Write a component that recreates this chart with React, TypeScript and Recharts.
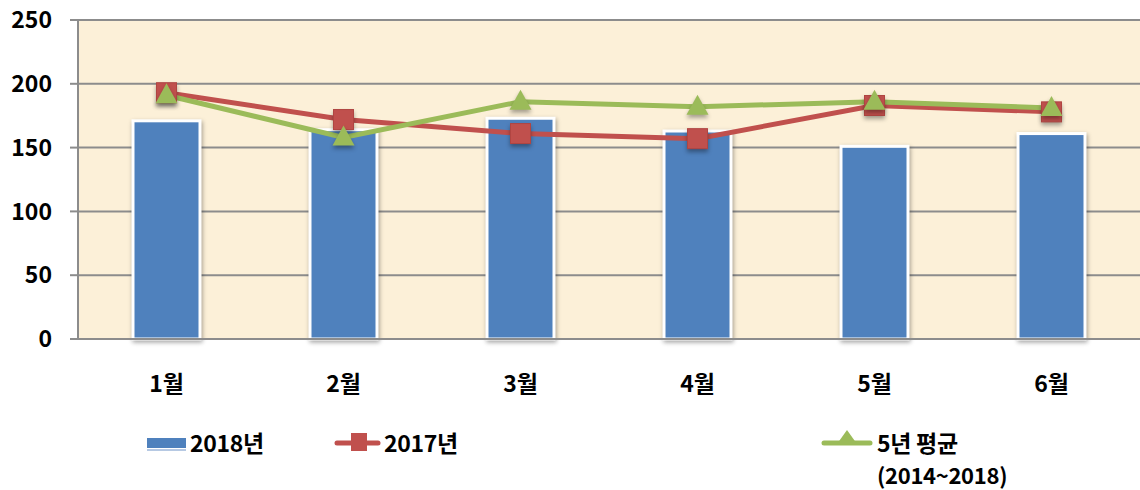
import React from 'react';
import { ComposedChart, Bar, Line, XAxis, YAxis, CartesianGrid } from 'recharts';

const categories = ['1월', '2월', '3월', '4월', '5월', '6월'];
const series2018 = [171, 164, 173, 163, 151, 161];
const series2017 = [193, 172, 161, 157, 183, 178];
const series5yr = [191, 158, 186, 182, 186, 181];
const yTicks = [0, 50, 100, 150, 200, 250];
const boundaryTicks = [0, 1, 2, 3, 4, 5, 6];

const data = categories.map((c, i) => ({
  name: c,
  idx: i + 0.5,
  a: series2018[i],
  b: series2017[i],
  c: series5yr[i],
}));

const FONT = '"Malgun Gothic", "Noto Sans CJK KR", sans-serif';

const SquareDot = (props: any) => {
  const { cx, cy } = props;
  if (cx == null || cy == null) return null;
  return (
    <rect
      x={cx - 10}
      y={cy - 10}
      width={20}
      height={20}
      fill="#c0504d"
      stroke="#b04542"
      strokeWidth={1}
      style={{ filter: 'drop-shadow(0px 3px 2px rgba(0,0,0,0.35))' }}
    />
  );
};

const TriangleDot = (props: any) => {
  const { cx, cy } = props;
  if (cx == null || cy == null) return null;
  return (
    <path
      d={`M${cx},${cy - 12} L${cx + 11},${cy + 8} L${cx - 11},${cy + 8} Z`}
      fill="#9bbb59"
      style={{ filter: 'drop-shadow(0px 3px 2px rgba(0,0,0,0.35))' }}
    />
  );
};

const ShadowBar = (props: any) => {
  const { x, y, width, height } = props;
  if (x == null || height == null || height <= 0) return null;
  return (
    <rect
      x={x}
      y={y}
      width={width}
      height={height}
      fill="#4f81bd"
      stroke="#ffffff"
      strokeWidth={3}
      style={{ filter: 'drop-shadow(1px 2px 2px rgba(0,0,0,0.35))' }}
    />
  );
};

const legendText: React.CSSProperties = {
  position: 'absolute',
  fontFamily: FONT,
  fontWeight: 700,
  fontSize: 23,
  color: '#000',
  lineHeight: '24px',
  whiteSpace: 'nowrap',
  letterSpacing: '-0.3px',
};

export default function App() {
  return (
    <div style={{ position: 'absolute', left: 0, top: 0, width: 1140, height: 490, background: '#fff', overflow: 'hidden' }}>
      <ComposedChart
        width={1140}
        height={490}
        data={data}
        margin={{ top: 20, right: 0, bottom: 91, left: 0 }}
        barCategoryGap={0}
      >
        <CartesianGrid vertical={false} stroke="#8c8c8c" strokeWidth={2} fill="#fcf0d8" fillOpacity={1} />
        <XAxis
          dataKey="name"
          height={60}
          tickLine={false}
          axisLine={{ stroke: '#8c8c8c', strokeWidth: 2 }}
          tickMargin={31}
          tick={{ fontFamily: FONT, fontWeight: 700, fontSize: 23, fill: '#000' }}
          interval={0}
        />
        <XAxis
          xAxisId="bd"
          type="number"
          dataKey="idx"
          domain={[0, 6]}
          ticks={boundaryTicks}
          tick={false}
          tickSize={8}
          tickLine={{ stroke: '#8c8c8c', strokeWidth: 2 }}
          axisLine={false}
          height={0}
          allowDataOverflow
        />
        <YAxis
          width={78}
          domain={[0, 250]}
          ticks={yTicks}
          interval={0}
          tickSize={8}
          tickMargin={18}
          tickLine={{ stroke: '#8c8c8c', strokeWidth: 2 }}
          axisLine={{ stroke: '#8c8c8c', strokeWidth: 2 }}
          tick={{ fontFamily: FONT, fontWeight: 700, fontSize: 23, fill: '#000' }}
        />
        <Bar dataKey="a" barSize={67} fill="#4f81bd" shape={<ShadowBar />} isAnimationActive={false} />
        <Line dataKey="b" stroke="#c0504d" strokeWidth={5} dot={<SquareDot />} activeDot={false} isAnimationActive={false} />
        <Line dataKey="c" stroke="#9bbb59" strokeWidth={5} dot={<TriangleDot />} activeDot={false} isAnimationActive={false} />
      </ComposedChart>

      <svg style={{ position: 'absolute', left: 0, top: 0 }} width={1140} height={490} pointerEvents="none">
        <rect x={147} y={438} width={39} height={10} fill="#4f81bd" />
        <line x1={147} y1={450} x2={186} y2={450} stroke="#6f93c8" strokeWidth={1} />
        <line x1={337} y1={443} x2={378} y2={443} stroke="#c0504d" strokeWidth={5} strokeLinecap="round" />
        <rect x={351} y={433} width={16} height={18} fill="#c0504d" />
        <line x1={824} y1={443} x2={870} y2={443} stroke="#9bbb59" strokeWidth={5} strokeLinecap="round" />
        <path d="M847,430 L857,444 L837,444 Z" fill="#9bbb59" />
      </svg>
      <div style={{ ...legendText, left: 190, top: 430 }}>2018년</div>
      <div style={{ ...legendText, left: 384, top: 430 }}>2017년</div>
      <div style={{ ...legendText, left: 877, top: 430 }}>5년 평균</div>
      <div style={{ ...legendText, left: 877, top: 462, fontSize: 22 }}>(2014~2018)</div>
    </div>
  );
}
